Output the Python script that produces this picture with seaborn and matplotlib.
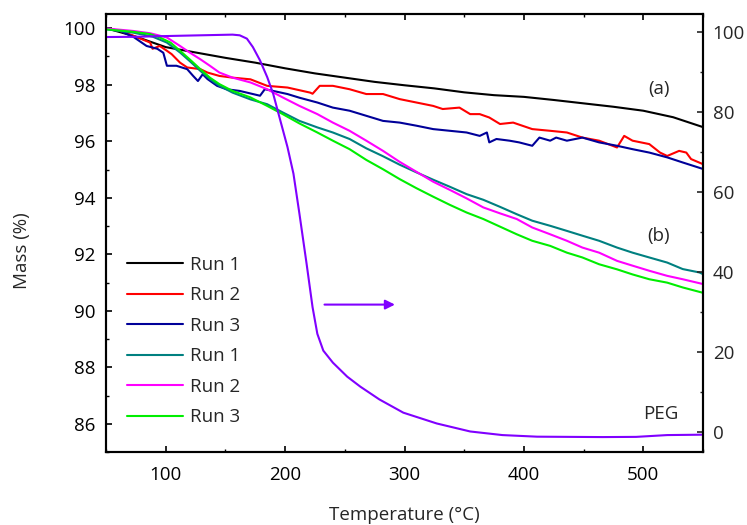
import matplotlib
matplotlib.use("Agg")
import matplotlib.pyplot as plt
import pandas as pd
import seaborn as sns
from matplotlib.ticker import MultipleLocator
from matplotlib.lines import Line2D

# ---- data: TGA mass loss curves ----
# (a) series
a_run1_t = [50, 75, 100, 125, 150, 175, 200, 225, 250, 275, 300, 325, 350, 375, 400,
            425, 450, 475, 500, 525, 550]
a_run1_m = [100.0, 99.70, 99.33, 99.14, 98.95, 98.78, 98.58, 98.40, 98.25, 98.10, 97.98,
            97.87, 97.73, 97.63, 97.57, 97.46, 97.34, 97.22, 97.08, 96.85, 96.50]

a_run2_t = [50, 62, 73, 87, 89, 95, 101, 105, 112, 118, 129, 135, 145, 156, 171, 185,
            202, 221, 223, 229, 240, 254, 268, 282, 296, 310, 324, 332, 346, 355, 363,
            371, 380, 391, 407, 422, 436, 449, 463, 478, 484, 491, 505, 514, 520, 530,
            536, 540, 550]
a_run2_m = [99.99, 99.90, 99.73, 99.49, 99.27, 99.37, 99.20, 99.08, 98.78, 98.61, 98.55,
            98.43, 98.31, 98.25, 98.19, 97.96, 97.90, 97.72, 97.68, 97.96, 97.96, 97.84,
            97.67, 97.67, 97.49, 97.37, 97.25, 97.14, 97.19, 96.96, 96.96, 96.84, 96.61,
            96.66, 96.43, 96.37, 96.31, 96.13, 96.02, 95.78, 96.19, 96.02, 95.90, 95.60,
            95.48, 95.66, 95.60, 95.37, 95.19]

a_run3_t = [50, 62, 73, 84, 93, 98, 101, 109, 118, 123, 127, 131, 135, 143, 151, 162,
            173, 179, 183, 190, 202, 212, 227, 240, 254, 268, 282, 296, 310, 324, 338,
            352, 363, 369, 371, 377, 388, 396, 407, 413, 422, 427, 436, 449, 463, 478,
            491, 505, 520, 533, 550]
a_run3_m = [100.0, 99.90, 99.69, 99.37, 99.27, 99.13, 98.67, 98.67, 98.55, 98.31, 98.13,
            98.37, 98.20, 97.96, 97.84, 97.78, 97.67, 97.61, 97.84, 97.78, 97.67, 97.54,
            97.37, 97.19, 97.08, 96.90, 96.72, 96.66, 96.55, 96.43, 96.37, 96.31, 96.19,
            96.31, 95.96, 96.08, 96.02, 95.96, 95.84, 96.13, 96.02, 96.13, 96.02, 96.13,
            95.96, 95.84, 95.72, 95.60, 95.43, 95.25, 95.02]

# (b) series
b_run1_t = [50, 73, 89, 101, 112, 120, 129, 137, 145, 156, 171, 185, 198, 212, 227, 240,
            254, 268, 282, 296, 310, 324, 338, 352, 366, 380, 394, 407, 422, 436, 449,
            463, 478, 491, 505, 520, 533, 547, 550]
b_run1_m = [99.96, 99.84, 99.70, 99.49, 99.14, 98.84, 98.49, 98.20, 97.96, 97.72, 97.48,
            97.31, 97.02, 96.72, 96.49, 96.31, 96.08, 95.75, 95.47, 95.17, 94.90, 94.64,
            94.39, 94.13, 93.93, 93.68, 93.42, 93.19, 93.01, 92.83, 92.66, 92.48, 92.24,
            92.06, 91.89, 91.71, 91.48, 91.36, 91.30]

b_run2_t = [50, 73, 87, 101, 112, 120, 129, 137, 145, 156, 171, 185, 198, 212, 227, 240,
            254, 268, 282, 296, 310, 324, 338, 352, 366, 380, 394, 407, 422, 436, 449,
            463, 478, 491, 505, 520, 533, 550]
b_run2_m = [99.99, 99.90, 99.82, 99.67, 99.37, 99.14, 98.90, 98.67, 98.43, 98.25, 98.08,
            97.84, 97.55, 97.25, 96.96, 96.66, 96.37, 96.02, 95.66, 95.27, 94.92, 94.57,
            94.28, 93.98, 93.66, 93.45, 93.25, 92.95, 92.71, 92.48, 92.24, 92.06, 91.77,
            91.60, 91.42, 91.24, 91.12, 90.95]

b_run3_t = [50, 73, 87, 95, 104, 112, 120, 129, 137, 145, 156, 171, 185, 198, 212, 227,
            240, 254, 268, 282, 296, 310, 324, 338, 352, 366, 380, 394, 407, 422, 436,
            449, 463, 478, 491, 505, 520, 533, 550]
b_run3_m = [99.96, 99.87, 99.79, 99.67, 99.49, 99.20, 98.90, 98.55, 98.25, 98.02, 97.78,
            97.55, 97.25, 96.96, 96.63, 96.31, 96.02, 95.72, 95.34, 95.01, 94.66, 94.34,
            94.04, 93.75, 93.48, 93.25, 92.98, 92.71, 92.48, 92.30, 92.06, 91.89, 91.65,
            91.47, 91.29, 91.12, 91.00, 90.83, 90.64]

# PEG reference curve (right axis)
peg_t = [50, 73, 101, 129, 156, 162, 168, 173, 179, 185, 190, 196, 202, 207, 212, 218,
         223, 227, 232, 240, 252, 263, 279, 299, 327, 355, 382, 411, 438, 466, 494,
         520, 550]
peg_m = [98.75, 98.8, 99.0, 99.18, 99.35, 99.18, 98.35, 96.25, 92.9, 88.75, 84.6, 77.9,
         71.25, 64.6, 54.6, 42.1, 31.25, 24.6, 20.4, 17.4, 13.9, 11.4, 8.2, 4.9, 2.2,
         0.2, -0.7, -1.1, -1.15, -1.2, -1.15, -0.7, -0.6]

labels = ["Run 1", "Run 2", "Run 3", "Run 1", "Run 2", "Run 3"]
colors = ["#000000", "#FF0000", "#000099", "#008080", "#FF00FF", "#00EE00"]
peg_color = "#8000FF"

runs = [(a_run1_t, a_run1_m), (a_run2_t, a_run2_m), (a_run3_t, a_run3_m),
        (b_run1_t, b_run1_m), (b_run2_t, b_run2_m), (b_run3_t, b_run3_m)]

# ---- style ----
FS = 13.5
sns.set_style("ticks")
plt.rcParams["font.family"] = ["Open Sans", "DejaVu Sans"]
plt.rcParams["font.size"] = FS

fig = plt.figure(figsize=(7.47, 5.25), dpi=100)
ax = fig.add_axes([0.1419, 0.1385, 0.7992, 0.8348])
ax2 = ax.twinx()

lw = 1.5
for (t, m), c in zip(runs, colors):
    df = pd.DataFrame({"Temperature": t, "Mass": m})
    sns.lineplot(data=df, x="Temperature", y="Mass", ax=ax, color=c, lw=lw,
                 sort=False, estimator=None, legend=False)

peg_df = pd.DataFrame({"Temperature": peg_t, "Mass": peg_m})
sns.lineplot(data=peg_df, x="Temperature", y="Mass", ax=ax2, color=peg_color, lw=lw,
             sort=False, estimator=None, legend=False)

# ---- axes ----
ax.set_xlim(50, 550)
ax.set_ylim(85, 100.5)
ax2.set_ylim(-5, 104.5)

ax.xaxis.set_major_locator(MultipleLocator(100))
ax.xaxis.set_minor_locator(MultipleLocator(50))
ax.yaxis.set_major_locator(MultipleLocator(2))
ax.yaxis.set_minor_locator(MultipleLocator(1))
ax2.yaxis.set_major_locator(MultipleLocator(20))
ax2.yaxis.set_minor_locator(MultipleLocator(10))

ax.tick_params(axis="both", which="both", direction="in", top=True, right=False,
               labelsize=FS, colors="#000000")
ax.tick_params(axis="both", which="major", length=4, width=1.2)
ax.tick_params(axis="both", which="minor", length=2.5, width=1.0)
ax.tick_params(axis="x", which="major", pad=10)
ax.tick_params(axis="y", which="major", pad=7.5)
ax2.tick_params(axis="y", which="both", direction="in", labelsize=FS, pad=7)
ax2.tick_params(axis="y", which="major", length=4, width=1.2)
ax2.tick_params(axis="y", which="minor", length=2.5, width=1.0)

for a in (ax, ax2):
    for sp in a.spines.values():
        sp.set_linewidth(1.5)
        sp.set_color("#000000")

ax.set_xlabel("Temperature (\u00b0C)", fontsize=FS)
ax.set_ylabel("Mass (%)", fontsize=FS)
ax2.set_ylabel("")
ax.xaxis.set_label_coords(0.5, -0.122)
ax.yaxis.set_label_coords(-0.126, 0.46)

# ---- annotations ----
ax.text(512.8, 97.84, "(a)", fontsize=FS, ha="center", va="center")
ax.text(512.8, 92.66, "(b)", fontsize=FS, ha="center", va="center")
ax2.text(514.5, 4.6, "PEG", fontsize=FS, ha="center", va="center")
ax2.annotate("", xy=(292, 31.9), xytext=(233, 31.9),
             arrowprops=dict(arrowstyle="-|>", color=peg_color, lw=1.5,
                             mutation_scale=14, shrinkA=0, shrinkB=0))

handles = [Line2D([0], [0], color=c, lw=lw) for c in colors]
ax.legend(handles, labels, loc="upper left", bbox_to_anchor=(0.035, 0.449),
          frameon=False, fontsize=FS, handlelength=3.0, handletextpad=0.37,
          labelspacing=0.67, borderaxespad=0, borderpad=0)

fig.savefig("out.png", dpi=100)
